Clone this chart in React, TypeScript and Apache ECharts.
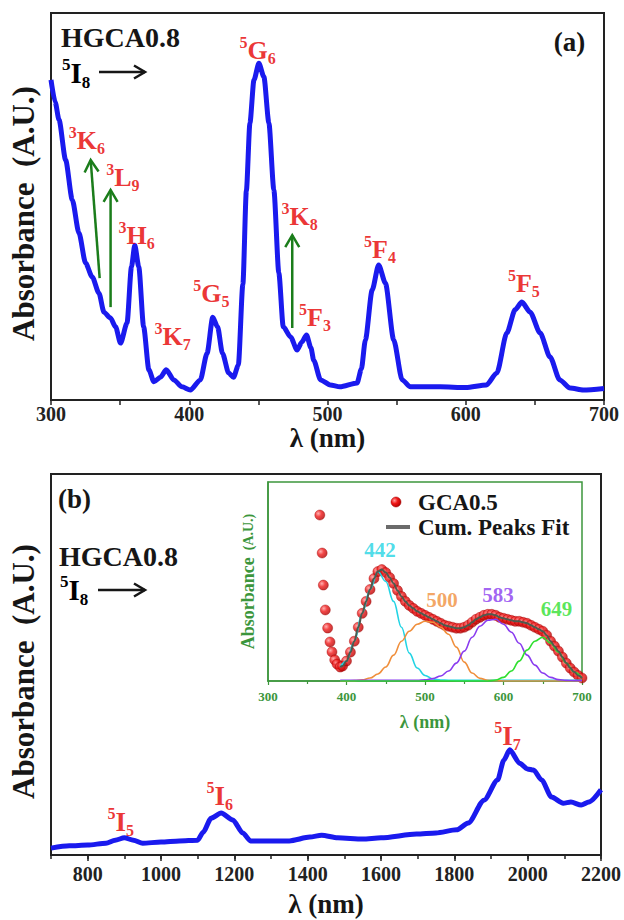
import React, { useEffect, useRef } from "react";
import * as echarts from "echarts";

const SERIF = "Liberation Serif";
const RED = "#e60000";
const BLUE = "#1a1aee";
const ARROW_GREEN = "#1b7d1b";
const INSET_GREEN = "#3c963c";
const INK = "#161616";

// ---------- panel (a): UV-Vis ----------
const aWave = [300, 303, 305.8, 310.6, 315.4, 320.2, 325, 329.8, 334.7, 338.3, 343, 346.7, 350.3, 355, 358.2, 360.6, 363.5, 367, 370.8, 374.4, 379.2, 383.3, 388.8, 394.8, 400.8, 408, 412.9, 417, 420.5, 424, 428.5, 432, 435.5, 438.8, 441.3, 443.9, 446.8, 450.4, 454, 457.6, 461.2, 464.8, 468, 473.3, 478, 481.5, 484.8, 488, 490, 495, 502, 509, 521.4, 524.5, 527.4, 532.3, 537, 541.9, 547.9, 554, 560, 581.6, 600, 615, 622.5, 629.7, 635.7, 640.6, 646.6, 653.8, 661, 668, 675.5, 685, 700];
const aAbs = [82.7, 77, 72.4, 62, 51.7, 43.2, 35.4, 31.8, 27.6, 22.7, 21.2, 18.9, 14.7, 19.9, 34.4, 40, 34.4, 18.9, 7.8, 4.7, 5.9, 7.8, 5.2, 3.4, 2.6, 5.2, 12.1, 21.4, 18.9, 12.1, 7, 5.9, 9, 30, 54, 71.6, 82.7, 87, 83.5, 71.6, 54.3, 32.8, 18.9, 16.3, 12.9, 15, 16.8, 13.5, 10.3, 5.2, 3.9, 3.4, 4.4, 8, 15.5, 28.4, 34.9, 30.2, 15.5, 5.2, 3.4, 3.4, 3.2, 3.9, 7, 17.3, 23.3, 25.3, 22.7, 17.3, 11.1, 5.2, 3.1, 2.6, 3.0];

const aTerms = [
  { sup: "3", main: "K", sub: "6", at: [326, 67] },
  { sup: "3", main: "L", sub: "9", at: [352, 57.4] },
  { sup: "3", main: "H", sub: "6", at: [362, 42.4] },
  { sup: "3", main: "K", sub: "7", at: [388, 16.3] },
  { sup: "5", main: "G", sub: "5", at: [416, 27.4] },
  { sup: "5", main: "G", sub: "6", at: [449.5, 90.4] },
  { sup: "3", main: "K", sub: "8", at: [479.8, 47.3] },
  { sup: "5", main: "F", sub: "3", at: [491, 21.4] },
  { sup: "5", main: "F", sub: "4", at: [538, 39] },
  { sup: "5", main: "F", sub: "5", at: [642, 30] },
];
// arrows: [fromX, fromY, toX, toY]
const aArrows = [
  [335.2, 31.5, 328.7, 62.0],
  [343.1, 24.0, 343.1, 54.3],
  [474.5, 18.6, 474.5, 42.6],
];

// ---------- panel (b): NIR ----------
const bWave = [700, 750, 800, 850, 875, 900, 925, 950, 1000, 1050, 1100, 1115, 1137, 1164, 1196, 1223, 1244, 1300, 1350, 1406, 1438, 1482, 1550, 1600, 1697, 1750, 1806, 1838, 1881, 1918, 1935, 1951, 1978, 1999, 2016, 2038, 2065, 2097, 2118, 2146, 2167, 2200];
const bAbs = [1.8, 2.4, 2.6, 3.1, 3.9, 4.5, 3.9, 3.1, 3.4, 3.7, 3.9, 6.0, 9.7, 11.0, 9.2, 5.8, 3.7, 3.7, 3.7, 4.7, 5.2, 4.5, 4.2, 4.5, 5.5, 5.8, 6.6, 8.4, 14.4, 19.7, 24.9, 27.6, 24.1, 22.6, 22.3, 19.7, 15.2, 13.6, 13.9, 13.1, 13.9, 17.1];
const bTerms = [
  { sup: "5", main: "I", sub: "5", at: [890, 8.7] },
  { sup: "5", main: "I", sub: "6", at: [1160, 15.5] },
  { sup: "5", main: "I", sub: "7", at: [1945, 31.2] },
];

// ---------- inset: GCA0.5 with peak fit ----------
const gcaWave = [366, 369, 370.5, 373, 376, 379, 381.5, 385, 388, 392, 395, 400, 405, 410, 415, 420, 425, 430, 435, 440, 445, 450, 455, 460, 465, 470, 475, 480, 485, 490, 495, 500, 505, 510, 515, 520, 525, 530, 535, 540, 545, 550, 555, 560, 565, 570, 575, 580, 585, 590, 595, 600, 605, 610, 615, 620, 625, 630, 635, 640, 645, 650, 655, 660, 665, 670, 675, 680, 685, 690, 695, 700];
const gcaAbs = [0.834, 0.643, 0.482, 0.357, 0.266, 0.196, 0.146, 0.106, 0.085, 0.07, 0.075, 0.10, 0.145, 0.20, 0.27, 0.34, 0.40, 0.46, 0.515, 0.55, 0.56, 0.545, 0.52, 0.49, 0.455, 0.425, 0.40, 0.38, 0.365, 0.35, 0.34, 0.33, 0.32, 0.31, 0.30, 0.29, 0.28, 0.275, 0.27, 0.265, 0.265, 0.27, 0.28, 0.295, 0.31, 0.32, 0.33, 0.335, 0.335, 0.33, 0.32, 0.315, 0.31, 0.305, 0.30, 0.30, 0.295, 0.29, 0.28, 0.27, 0.26, 0.25, 0.23, 0.20, 0.175, 0.15, 0.12, 0.09, 0.065, 0.045, 0.028, 0.015];
const fitStart = 392;

const compWave = [392, 400, 410, 420, 430, 440, 450, 460, 470, 480, 490, 500, 510, 520, 530, 540, 550, 560, 570, 580, 590, 600, 610, 620, 630, 640, 650, 660, 670, 680, 690, 700];
const peak442 = [0.07, 0.10, 0.20, 0.34, 0.46, 0.55, 0.50, 0.40, 0.27, 0.14, 0.065, 0.028, 0.01, 0.005, 0.004, 0.003, 0.003, 0.003, 0.003, 0.003, 0.003, 0.003, 0.003, 0.003, 0.003, 0.003, 0.003, 0.003, 0.003, 0.003, 0.003, 0.003];
const peak500 = [0, 0, 0.002, 0.006, 0.015, 0.035, 0.07, 0.13, 0.20, 0.25, 0.285, 0.30, 0.295, 0.27, 0.235, 0.17, 0.095, 0.04, 0.013, 0.004, 0.001, 0, 0, 0, 0, 0, 0, 0, 0, 0, 0, 0];
const peak583 = [0.003, 0.003, 0.003, 0.003, 0.003, 0.003, 0.003, 0.003, 0.003, 0.003, 0.003, 0.006, 0.012, 0.025, 0.05, 0.09, 0.15, 0.22, 0.275, 0.305, 0.31, 0.285, 0.245, 0.19, 0.13, 0.08, 0.04, 0.018, 0.007, 0.003, 0.002, 0.001];
const peak649 = [0, 0, 0, 0, 0, 0, 0, 0, 0, 0, 0, 0, 0, 0, 0, 0, 0, 0, 0, 0, 0.005, 0.018, 0.05, 0.10, 0.155, 0.20, 0.22, 0.19, 0.145, 0.09, 0.045, 0.015];

const peakNames = ["442", "500", "583", "649"];
const peakColors = ["#22d4e4", "#f08f3c", "#8a3cef", "#2fdf2f"];
const peakLabelAt = [
  [442.7, 0.658],
  [521.6, 0.407],
  [593, 0.432],
  [667.5, 0.362],
];

const zip = (xs: number[], ys: number[]) => xs.map((x, i) => [x, ys[i]]);

const termRich = (color: string, m: number, s: number) => ({
  s: { fontFamily: SERIF, fontWeight: "bold", fontSize: s, color, lineHeight: s + 2, verticalAlign: "top" },
  m: { fontFamily: SERIF, fontWeight: "bold", fontSize: m, color, lineHeight: m + 6 },
  b: { fontFamily: SERIF, fontWeight: "bold", fontSize: s, color, lineHeight: s + 2, verticalAlign: "bottom" },
});

const termFormatter = (p: any) => `{s|${p.data.sup}}{m|${p.data.main}}{b|${p.data.sub}}`;

const redBall = () =>
  new echarts.graphic.RadialGradient(0.35, 0.35, 0.7, [
    { offset: 0, color: "#ff9c9c" },
    { offset: 0.45, color: "#f01818" },
    { offset: 1, color: "#b00000" },
  ]);

function arrowRenderer(color: string) {
  return (_params: any, api: any) => {
    const p1 = api.coord([api.value(0), api.value(1)]);
    const p2 = api.coord([api.value(2), api.value(3)]);
    const dx = p2[0] - p1[0];
    const dy = p2[1] - p1[1];
    const len = Math.hypot(dx, dy) || 1;
    const ux = dx / len;
    const uy = dy / len;
    const hl = 12;
    const hw = 7;
    const bx = p2[0] - ux * hl;
    const by = p2[1] - uy * hl;
    return {
      type: "group",
      children: [
        { type: "line", shape: { x1: p1[0], y1: p1[1], x2: p2[0], y2: p2[1] }, style: { stroke: color, lineWidth: 2.5 } },
        {
          type: "polyline",
          shape: { points: [[bx - uy * hw, by + ux * hw], [p2[0], p2[1]], [bx + uy * hw, by - ux * hw]] },
          style: { stroke: color, lineWidth: 2.5, fill: "none" },
        },
      ],
    };
  };
}

const textArrow = (x1: number, x2: number, y: number) => [
  { type: "line", z: 100, shape: { x1, y1: y, x2, y2: y }, style: { stroke: INK, lineWidth: 2.5 } },
  { type: "polyline", z: 100, shape: { points: [[x2 - 11, y - 6.5], [x2, y], [x2 - 11, y + 6.5]] }, style: { stroke: INK, lineWidth: 2.5, fill: "none" } },
];

const boldText = (size: number, color: string) => ({ fontFamily: SERIF, fontWeight: "bold" as const, fontSize: size, color });

function buildOption(): any {
  const fit = zip(gcaWave, gcaAbs).filter((d) => d[0] >= fitStart);
  const comps = [peak442, peak500, peak583, peak649];

  const mainXAxisBase = {
    type: "value",
    position: "bottom",
    splitLine: { show: false },
    axisLine: { lineStyle: { color: "#222", width: 2 } },
    axisTick: { length: 5, lineStyle: { color: "#222", width: 1.5 } },
    axisLabel: { ...boldText(20, "#222"), formatter: (v: number) => String(v) },
    nameLocation: "middle",
    nameTextStyle: { ...boldText(27, INK) },
  };
  const mainYAxisBase = {
    type: "value",
    min: 0,
    max: 100,
    splitLine: { show: false },
    axisTick: { show: false },
    axisLabel: { show: false },
    axisLine: { lineStyle: { color: "#222", width: 2 } },
    name: "Absorbance  (A.U.)",
    nameLocation: "middle",
    nameRotate: 90,
    nameGap: 12,
    nameTextStyle: { ...boldText(31, INK), padding: [0, 14, 0, 0] },
  };

  return {
    animation: false,
    backgroundColor: "#ffffff",
    grid: [
      { left: 50, top: 13, width: 554, height: 387, show: true, borderColor: "#222", borderWidth: 2, backgroundColor: "transparent" },
      { left: 50, top: 474, width: 554, height: 381, show: true, borderColor: "#222", borderWidth: 2, backgroundColor: "transparent" },
      { left: 268, top: 482, width: 314, height: 199, show: true, borderColor: INSET_GREEN, borderWidth: 1.5, backgroundColor: "#ffffff" },
    ],
    xAxis: [
      {
        ...mainXAxisBase,
        gridIndex: 0,
        min: 300,
        max: 700,
        interval: 100,
        minorTick: { show: true, splitNumber: 2, length: 5, lineStyle: { color: "#222", width: 1.5 } },
        axisLabel: { ...mainXAxisBase.axisLabel, margin: 4 },
        name: "λ (nm)",
        nameGap: 23,
      },
      {
        ...mainXAxisBase,
        gridIndex: 1,
        min: 700,
        max: 2200,
        splitNumber: 7,
        axisTick: { length: 6, lineStyle: { color: "#222", width: 1.5 } },
        axisLabel: { ...mainXAxisBase.axisLabel, margin: 9, showMinLabel: false },
        name: "λ (nm)",
        nameGap: 35,
      },
      {
        type: "value",
        gridIndex: 1,
        position: "bottom",
        min: 700,
        max: 2200,
        interval: 100,
        axisLine: { show: false },
        axisLabel: { show: false },
        splitLine: { show: false },
        axisTick: { length: 4, lineStyle: { color: "#222", width: 1.5 } },
      },
      {
        type: "value",
        gridIndex: 2,
        position: "bottom",
        min: 300,
        max: 700,
        interval: 100,
        splitLine: { show: false },
        axisLine: { lineStyle: { color: INSET_GREEN, width: 1.5 } },
        axisTick: { length: 4, lineStyle: { color: INSET_GREEN, width: 1.2 } },
        minorTick: { show: true, splitNumber: 2, length: 3, lineStyle: { color: INSET_GREEN, width: 1.2 } },
        axisLabel: { ...boldText(13, INSET_GREEN), margin: 9 },
        name: "λ (nm)",
        nameLocation: "middle",
        nameGap: 32,
        nameTextStyle: { ...boldText(18, INSET_GREEN) },
      },
    ],
    yAxis: [
      { ...mainYAxisBase, gridIndex: 0 },
      { ...mainYAxisBase, gridIndex: 1 },
      {
        type: "value",
        gridIndex: 2,
        min: 0,
        max: 1,
        splitLine: { show: false },
        axisTick: { show: false },
        axisLabel: { show: false },
        axisLine: { lineStyle: { color: INSET_GREEN, width: 1.5 } },
        name: "{a|Absorbance}{c|  (A.U.)}",
        nameLocation: "middle",
        nameRotate: 90,
        nameGap: 11,
        nameTextStyle: {
          rich: {
            a: { ...boldText(18, INSET_GREEN) },
            c: { ...boldText(14, INSET_GREEN) },
          },
        },
      },
    ],
    series: [
      {
        type: "line",
        xAxisIndex: 0,
        yAxisIndex: 0,
        data: zip(aWave, aAbs),
        showSymbol: false,
        symbol: "none",
        smooth: 0.25,
        smoothMonotone: "x",
        lineStyle: { color: BLUE, width: 5 },
        silent: true,
      },
      {
        type: "line",
        xAxisIndex: 1,
        yAxisIndex: 1,
        data: zip(bWave, bAbs),
        symbol: "none",
        smooth: 0.25,
        smoothMonotone: "x",
        lineStyle: { color: BLUE, width: 5 },
        silent: true,
      },
      {
        type: "scatter",
        name: "GCA0.5",
        xAxisIndex: 3,
        yAxisIndex: 2,
        data: zip(gcaWave, gcaAbs),
        symbolSize: 10,
        itemStyle: { color: redBall(), borderColor: "#a00000", borderWidth: 0.5 },
        silent: true,
        z: 3,
      },
      ...comps.map((vals, i) => ({
        type: "line",
        xAxisIndex: 3,
        yAxisIndex: 2,
        data: zip(compWave, vals),
        symbol: "none",
        smooth: 0.4,
        smoothMonotone: "x",
        lineStyle: { color: peakColors[i], width: 1.6 },
        silent: true,
        z: 4,
      })),
      {
        type: "line",
        name: "Cum. Peaks Fit",
        xAxisIndex: 3,
        yAxisIndex: 2,
        data: fit,
        symbol: "none",
        smooth: 0.4,
        smoothMonotone: "x",
        lineStyle: { color: "#4e5a4e", width: 2 },
        silent: true,
        z: 5,
      },
      {
        type: "scatter",
        xAxisIndex: 0,
        yAxisIndex: 0,
        symbolSize: 1,
        silent: true,
        z: 10,
        itemStyle: { color: "rgba(0,0,0,0)" },
        label: { show: true, position: "inside", formatter: termFormatter, rich: termRich(RED, 26, 16) },
        data: aTerms.map((t) => ({ value: t.at, sup: t.sup, main: t.main, sub: t.sub })),
      },
      {
        type: "scatter",
        xAxisIndex: 1,
        yAxisIndex: 1,
        symbolSize: 1,
        silent: true,
        z: 10,
        itemStyle: { color: "rgba(0,0,0,0)" },
        label: { show: true, position: "inside", formatter: termFormatter, rich: termRich(RED, 27, 16) },
        data: bTerms.map((t) => ({ value: t.at, sup: t.sup, main: t.main, sub: t.sub })),
      },
      {
        type: "scatter",
        xAxisIndex: 3,
        yAxisIndex: 2,
        symbolSize: 1,
        silent: true,
        z: 10,
        itemStyle: { color: "rgba(0,0,0,0)" },
        label: { show: true, position: "inside", formatter: "{b}", ...boldText(21, "#000") },
        data: peakNames.map((n, i) => ({
          name: n,
          value: peakLabelAt[i],
          label: { color: peakColors[i] },
        })),
      },
      {
        type: "custom",
        xAxisIndex: 0,
        yAxisIndex: 0,
        silent: true,
        z: 9,
        encode: { x: [0, 2], y: [1, 3] },
        data: aArrows,
        renderItem: arrowRenderer(ARROW_GREEN),
      },
    ],
    graphic: [
      // panel (a) annotations
      { type: "text", z: 100, x: 61, y: 37, style: { text: "HGCA0.8", fill: INK, fontFamily: SERIF, fontWeight: "bold", fontSize: 28, verticalAlign: "middle", align: "left" } },
      { type: "text", z: 100, x: 62, y: 73, style: { text: "{s|5}{m|I}{b|8}", rich: termRich(INK, 29, 17), verticalAlign: "middle", align: "left" } },
      ...textArrow(99, 145, 72),
      { type: "text", z: 100, x: 569.5, y: 42, style: { text: "(a)", fill: INK, fontFamily: SERIF, fontWeight: "bold", fontSize: 27, verticalAlign: "middle", align: "center" } },
      // panel (b) annotations
      { type: "text", z: 100, x: 58, y: 499, style: { text: "(b)", fill: INK, fontFamily: SERIF, fontWeight: "bold", fontSize: 27, verticalAlign: "middle", align: "left" } },
      { type: "text", z: 100, x: 59, y: 556, style: { text: "HGCA0.8", fill: INK, fontFamily: SERIF, fontWeight: "bold", fontSize: 28, verticalAlign: "middle", align: "left" } },
      { type: "text", z: 100, x: 60, y: 590, style: { text: "{s|5}{m|I}{b|8}", rich: termRich(INK, 29, 17), verticalAlign: "middle", align: "left" } },
      ...textArrow(98, 145, 590),
      // inset legend
      { type: "circle", z: 100, shape: { cx: 396, cy: 502, r: 5 }, style: { fill: redBall(), stroke: "#a00000", lineWidth: 0.5 } },
      { type: "text", z: 100, x: 418, y: 502, style: { text: "GCA0.5", fill: INK, fontFamily: SERIF, fontWeight: "bold", fontSize: 23, verticalAlign: "middle", align: "left" } },
      { type: "line", z: 100, shape: { x1: 386, y1: 527, x2: 410, y2: 527 }, style: { stroke: "#6b6b6b", lineWidth: 4 } },
      { type: "text", z: 100, x: 418, y: 527, style: { text: "Cum. Peaks Fit", fill: INK, fontFamily: SERIF, fontWeight: "bold", fontSize: 23, verticalAlign: "middle", align: "left" } },
    ],
  };
}

export default function App() {
  const ref = useRef<HTMLDivElement>(null);
  useEffect(() => {
    document.body.style.margin = "0";
    const chart = echarts.init(ref.current!, null, { renderer: "svg" });
    chart.setOption(buildOption());
    return () => chart.dispose();
  }, []);
  return <div ref={ref} style={{ width: 624, height: 920, background: "#fff" }} />;
}
